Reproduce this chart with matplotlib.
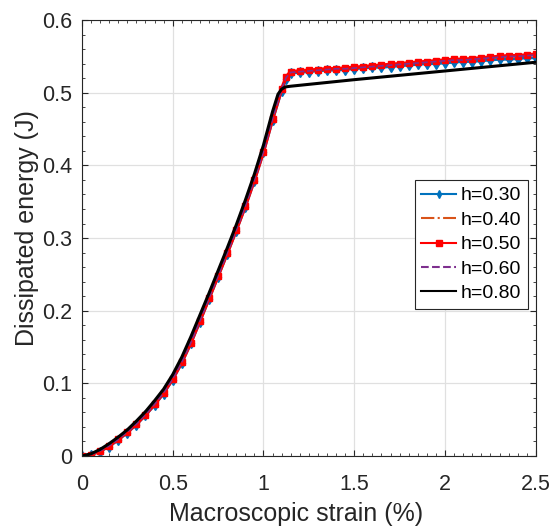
import numpy as np
import matplotlib
matplotlib.use("Agg")
import matplotlib.pyplot as plt
from matplotlib.ticker import MultipleLocator

plt.rcParams['font.family'] = ['Liberation Sans', 'DejaVu Sans']

# strain (%) for the h=0.30..0.60 runs
strain = [0.00, 0.05, 0.10, 0.15, 0.20, 0.25, 0.30, 0.35, 0.40, 0.45,
          0.50, 0.55, 0.60, 0.65, 0.70, 0.75, 0.80, 0.85, 0.90, 0.95,
          1.00, 1.05, 1.10, 1.125, 1.15, 1.20, 1.25, 1.30, 1.35, 1.40,
          1.45, 1.50, 1.55, 1.60, 1.65, 1.70, 1.75, 1.80, 1.85, 1.90,
          1.95, 2.00, 2.05, 2.10, 2.15, 2.20, 2.25, 2.30, 2.35, 2.40,
          2.45, 2.50]

e_h030 = [0.000, 0.002, 0.006, 0.013, 0.022, 0.032, 0.043, 0.056, 0.070, 0.086,
          0.105, 0.128, 0.155, 0.185, 0.216, 0.247, 0.278, 0.310, 0.343, 0.379,
          0.418, 0.462, 0.503, 0.519, 0.527, 0.528, 0.529, 0.530, 0.531, 0.531,
          0.532, 0.533, 0.534, 0.535, 0.535, 0.536, 0.537, 0.538, 0.539, 0.540,
          0.540, 0.541, 0.542, 0.543, 0.543, 0.544, 0.545, 0.546, 0.546, 0.547,
          0.548, 0.548]
e_h040 = [0.000, 0.002, 0.007, 0.014, 0.023, 0.033, 0.044, 0.057, 0.071, 0.087,
          0.106, 0.129, 0.156, 0.186, 0.217, 0.248, 0.279, 0.311, 0.344, 0.380,
          0.419, 0.464, 0.505, 0.521, 0.528, 0.529, 0.530, 0.531, 0.532, 0.533,
          0.533, 0.534, 0.535, 0.536, 0.537, 0.538, 0.539, 0.540, 0.541, 0.542,
          0.543, 0.544, 0.545, 0.545, 0.546, 0.547, 0.548, 0.549, 0.550, 0.550,
          0.551, 0.552]
e_h050 = [0.000, 0.002, 0.007, 0.014, 0.023, 0.033, 0.044, 0.057, 0.071, 0.087,
          0.106, 0.129, 0.156, 0.186, 0.217, 0.248, 0.279, 0.311, 0.344, 0.380,
          0.419, 0.464, 0.505, 0.522, 0.529, 0.530, 0.531, 0.532, 0.533, 0.533,
          0.534, 0.535, 0.536, 0.537, 0.538, 0.539, 0.540, 0.541, 0.542, 0.543,
          0.544, 0.545, 0.546, 0.546, 0.547, 0.548, 0.549, 0.550, 0.551, 0.551,
          0.552, 0.553]
e_h060 = [0.000, 0.002, 0.007, 0.014, 0.023, 0.033, 0.044, 0.057, 0.071, 0.087,
          0.106, 0.129, 0.156, 0.186, 0.217, 0.248, 0.279, 0.311, 0.344, 0.380,
          0.419, 0.464, 0.505, 0.521, 0.528, 0.529, 0.530, 0.531, 0.532, 0.533,
          0.533, 0.534, 0.535, 0.536, 0.537, 0.538, 0.539, 0.540, 0.541, 0.542,
          0.543, 0.544, 0.545, 0.545, 0.546, 0.547, 0.548, 0.549, 0.550, 0.550,
          0.551, 0.552]

# h=0.80 run
strain_h080 = [0.00, 0.05, 0.10, 0.15, 0.20, 0.25, 0.30, 0.35, 0.40, 0.45,
               0.50, 0.55, 0.60, 0.65, 0.70, 0.75, 0.80, 0.85, 0.90, 0.95,
               1.00, 1.05, 1.08, 1.10, 1.12, 1.15, 1.50, 2.00, 2.50]
e_h080 = [0.000, 0.003, 0.009, 0.017, 0.026, 0.036, 0.048, 0.061, 0.076, 0.092,
          0.112, 0.136, 0.164, 0.194, 0.224, 0.255, 0.286, 0.318, 0.352, 0.388,
          0.428, 0.474, 0.498, 0.505, 0.508, 0.509, 0.518, 0.530, 0.542]

x_ticks = [0, 0.5, 1, 1.5, 2, 2.5]
x_labels = ['0', '0.5', '1', '1.5', '2', '2.5']
y_ticks = [0, 0.1, 0.2, 0.3, 0.4, 0.5, 0.6]
y_labels = ['0', '0.1', '0.2', '0.3', '0.4', '0.5', '0.6']

fig = plt.figure(figsize=(5.57, 5.29), dpi=100)
ax = fig.add_axes([0.147, 0.138, 0.815, 0.824])

ax.plot(strain, e_h030, '-d', color=(0, 0.447, 0.741), lw=2.0, ms=5, label='h=0.30')
ax.plot(strain, e_h040, '-.', color=(0.85, 0.325, 0.098), lw=1.2, label='h=0.40')
ax.plot(strain, e_h050, '-s', color='red', lw=2.5, ms=5, label='h=0.50')
ax.plot(strain, e_h060, '--', color=(0.494, 0.184, 0.556), lw=1.2, label='h=0.60')
ax.plot(strain_h080, e_h080, '-', color='black', lw=2.2, label='h=0.80')

ax.set_xlim(0, 2.5)
ax.set_ylim(0, 0.6)
ax.set_xticks(x_ticks)
ax.set_xticklabels(x_labels)
ax.set_yticks(y_ticks)
ax.set_yticklabels(y_labels)
ax.xaxis.set_minor_locator(MultipleLocator(0.05))
ax.yaxis.set_minor_locator(MultipleLocator(0.02))
ax.grid(True, which='major', color=(0.88, 0.88, 0.88), lw=0.9)
ax.set_axisbelow(True)

dark = (0.15, 0.15, 0.15)
for s in ax.spines.values():
    s.set_color(dark)
    s.set_linewidth(0.8)
ax.tick_params(which='both', direction='in', top=True, right=True,
               colors=dark, labelsize=15.5, labelcolor=dark)
ax.tick_params(which='major', length=4.5, width=0.8)
ax.tick_params(which='minor', length=2.5, width=0.6)
ax.tick_params(axis='x', which='major', pad=13)
ax.tick_params(axis='y', which='major', pad=7)

ax.set_xlabel('Macroscopic strain (%)', fontsize=18, color=dark)
ax.set_ylabel('Dissipated energy (J)', fontsize=18, color=dark)
ax.xaxis.set_label_coords(0.471, -0.105)
ax.yaxis.set_label_coords(-0.095, 0.523)

leg = ax.legend(loc='upper right', bbox_to_anchor=(0.982, 0.633), fontsize=14,
                frameon=True, fancybox=False, framealpha=1, edgecolor=dark,
                borderaxespad=0, handlelength=1.8, handletextpad=0.2,
                labelspacing=0.35, borderpad=0.35)
leg.get_frame().set_linewidth(0.8)
for h in leg.legend_handles:
    h.set_linewidth(1.5)
    h.set_markersize(4)

plt.savefig('out.png', dpi=100)
